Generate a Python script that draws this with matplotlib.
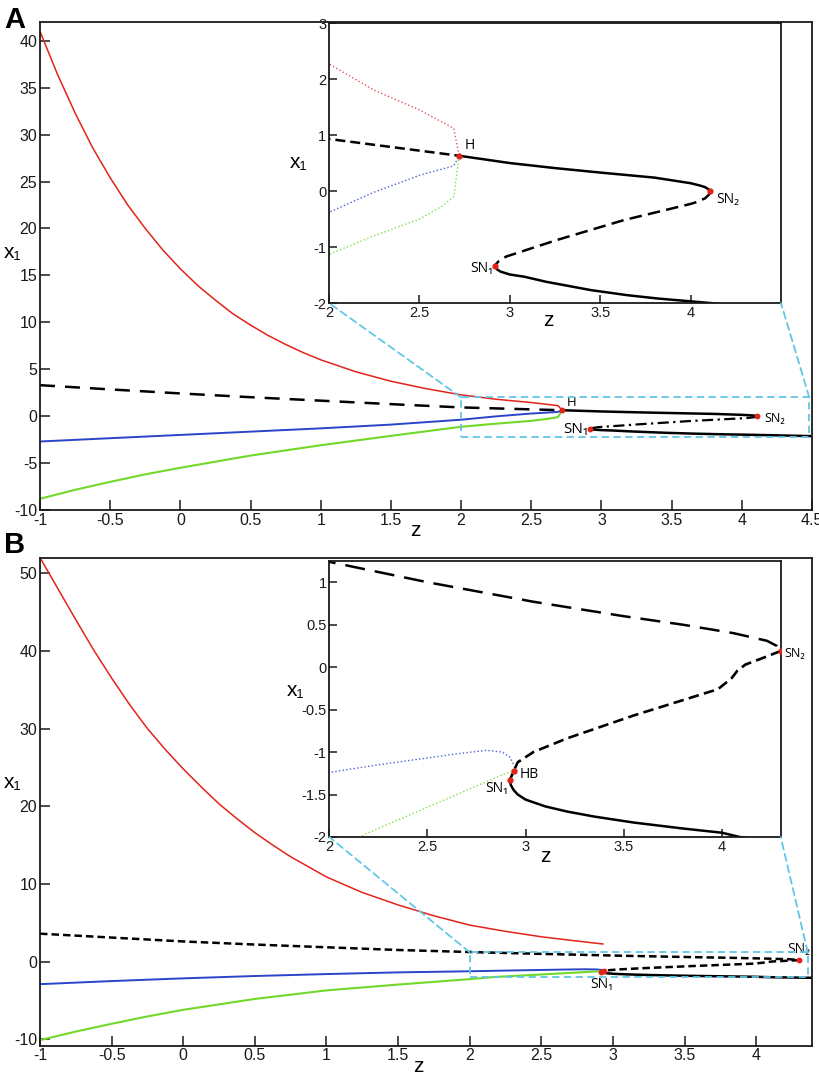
import matplotlib
matplotlib.use("Agg")
import matplotlib.pyplot as plt
from matplotlib.patches import Rectangle, ConnectionPatch
from matplotlib.ticker import FuncFormatter

plt.rcParams['font.family'] = ['Liberation Sans', 'DejaVu Sans']

# ---------------- Panel A data ----------------
A_red_z = [-1, -0.875, -0.75, -0.625, -0.5, -0.375, -0.25, -0.125, 0, 0.125, 0.25, 0.375, 0.5, 0.625, 0.75,
           0.875, 1, 1.25, 1.5, 1.75, 2, 2.25, 2.5, 2.69, 2.72]
A_red_x = [41.0, 36.4, 32.3, 28.6, 25.4, 22.5, 20.0, 17.7, 15.7, 13.9, 12.35, 10.9, 9.7, 8.6, 7.64,
           6.77, 6.0, 4.73, 3.72, 2.93, 2.27, 1.8, 1.45, 1.12, 0.63]
A_blue_z = [-1, -0.5, 0, 0.5, 1, 1.5, 2, 2.25, 2.5, 2.69, 2.72]
A_blue_x = [-2.7, -2.35, -2.0, -1.65, -1.3, -0.9, -0.38, -0.02, 0.28, 0.45, 0.63]
A_green_z = [-1, -0.75, -0.5, -0.25, 0, 0.5, 1, 1.5, 2, 2.25, 2.5, 2.62, 2.69, 2.72]
A_green_x = [-8.8, -7.85, -7.0, -6.2, -5.5, -4.2, -3.1, -2.1, -1.13, -0.8, -0.5, -0.28, -0.1, 0.63]
A_unst_up_z = [-1, -0.5, 0, 0.5, 1, 1.5, 2, 2.36, 2.72]
A_unst_up_x = [3.3, 2.85, 2.42, 2.02, 1.65, 1.28, 0.93, 0.78, 0.63]
A_stab_up_z = [2.72, 2.85, 3.0, 3.25, 3.5, 3.8, 3.9, 4.0, 4.05, 4.08, 4.1, 4.11]
A_stab_up_x = [0.63, 0.57, 0.5, 0.41, 0.33, 0.24, 0.19, 0.14, 0.1, 0.07, 0.03, 0.0]
A_mid_z = [4.11, 4.1, 4.08, 4.04, 4.0, 3.63, 3.26, 2.98, 2.94, 2.925, 2.917]
A_mid_x = [0.0, -0.07, -0.13, -0.19, -0.23, -0.52, -0.875, -1.17, -1.25, -1.3, -1.34]
A_low_z = [2.917, 2.93, 2.95, 3.0, 3.08, 3.2, 3.45, 3.65, 3.82, 4.11, 4.5]
A_low_x = [-1.34, -1.40, -1.44, -1.49, -1.53, -1.62, -1.77, -1.86, -1.92, -2.0, -2.13]
A_pts_z = [2.72, 2.917, 4.11]
A_pts_x = [0.63, -1.34, 0.0]
A_box_z = [2.0, 4.48]
A_box_x = [-2.2, 2.0]

# ---------------- Panel B data ----------------
B_red_z = [-1, -0.875, -0.75, -0.625, -0.5, -0.375, -0.25, -0.125, 0, 0.125, 0.25, 0.375, 0.5, 0.625, 0.75,
           0.875, 1, 1.25, 1.5, 1.75, 2, 2.25, 2.5, 2.75, 2.93]
B_red_x = [52, 48, 44, 40.1, 36.5, 33.1, 30, 27.3, 24.8, 22.5, 20.3, 18.4, 16.6, 15.0, 13.5,
           12.2, 10.9, 8.9, 7.3, 5.9, 4.7, 3.9, 3.2, 2.65, 2.27]
B_blue_z = [-1, -0.5, 0, 0.5, 1, 1.5, 2, 2.25, 2.5, 2.65, 2.8, 2.88, 2.92, 2.94]
B_blue_x = [-2.9, -2.5, -2.15, -1.85, -1.6, -1.38, -1.24, -1.15, -1.07, -1.02, -0.98, -1.0, -1.06, -1.15]
B_green_z = [-1, -0.75, -0.5, -0.25, 0, 0.5, 1, 1.5, 2, 2.18, 2.35, 2.53, 2.7, 2.9, 2.94]
B_green_x = [-10.1, -9.0, -8.0, -7.05, -6.2, -4.8, -3.7, -2.95, -2.25, -1.97, -1.8, -1.62, -1.45, -1.25, -1.22]
B_up_z = [-1, -0.5, 0, 0.5, 1, 1.5, 2, 2.5, 3.04, 3.5, 3.8, 4.06, 4.23, 4.28, 4.3]
B_up_x = [3.6, 3.1, 2.6, 2.2, 1.85, 1.5, 1.24, 1.0, 0.77, 0.6, 0.5, 0.40, 0.31, 0.25, 0.19]
B_mid_z = [4.3, 4.2, 4.12, 4.08, 4.05, 3.98, 3.55, 3.21, 3.04, 2.96, 2.94, 2.92]
B_mid_x = [0.19, 0.1, 0.03, -0.04, -0.13, -0.26, -0.57, -0.84, -1.0, -1.12, -1.22, -1.33]
B_low_z = [2.92, 2.925, 2.94, 2.96, 3.0, 3.05, 3.1, 3.21, 3.35, 3.55, 3.8, 4.0, 4.09, 4.39]
B_low_x = [-1.33, -1.39, -1.45, -1.5, -1.56, -1.6, -1.64, -1.70, -1.76, -1.83, -1.9, -1.95, -2.0, -2.08]
B_pts_z = [2.92, 2.94, 4.3]
B_pts_x = [-1.33, -1.22, 0.19]
B_box_z = [2.0, 4.36]
B_box_x = [-1.99, 1.2]

# ticks
A_xticks = [-1, -0.5, 0, 0.5, 1, 1.5, 2, 2.5, 3, 3.5, 4, 4.5]
A_yticks = [-10, -5, 0, 5, 10, 15, 20, 25, 30, 35, 40]
A_in_xticks = [2, 2.5, 3, 3.5, 4]
A_in_yticks = [-2, -1, 0, 1, 2, 3]
B_xticks = [-1, -0.5, 0, 0.5, 1, 1.5, 2, 2.5, 3, 3.5, 4]
B_yticks = [-10, 0, 10, 20, 30, 40, 50]
B_in_xticks = [2, 2.5, 3, 3.5, 4]
B_in_yticks = [-2, -1.5, -1, -0.5, 0, 0.5, 1]

RED = '#e2231a'
BLUE = '#2a45c8'
GREEN = '#72d82a'
CYAN = '#62c6e6'
W, H = 820, 1078
ANN = ['Open Sans', 'DejaVu Sans']

fig = plt.figure(figsize=(8.2, 10.78), dpi=100)

def px(x, y):
    return x / W, 1 - y / H

def style(ax, xt, yt, fs, tl):
    for s in ax.spines.values():
        s.set_linewidth(1.3)
        s.set_color('#1a1a1a')
    ax.set_xticks(xt)
    ax.set_yticks(yt)
    fmt = FuncFormatter(lambda v, p: '{:g}'.format(v))
    ax.xaxis.set_major_formatter(fmt)
    ax.yaxis.set_major_formatter(fmt)
    ax.tick_params(direction='in', length=tl, width=1.1, labelsize=fs,
                   top=False, right=False, pad=2, colors='#1a1a1a')

axA = fig.add_axes([0.0488, 0.5269, 0.9415, 0.4527])
insA = fig.add_axes([0.4012, 0.7189, 0.5512, 0.2597])
axB = fig.add_axes([0.0488, 0.0301, 0.9415, 0.4526])
insB = fig.add_axes([0.4016, 0.2236, 0.5505, 0.2560])

# ---------- Main A ----------
axA.plot(A_red_z, A_red_x, color=RED, lw=1.1)
axA.plot(A_blue_z, A_blue_x, color=BLUE, lw=1.4)
axA.plot(A_green_z, A_green_x, color=GREEN, lw=1.5)
axA.plot(A_unst_up_z, A_unst_up_x, color='k', lw=1.8, dashes=(6, 4))
axA.plot(A_stab_up_z, A_stab_up_x, color='k', lw=1.8)
axA.plot(A_mid_z, A_mid_x, color='k', lw=1.6, dashes=(5, 2, 1, 2))
axA.plot(A_low_z, A_low_x, color='k', lw=1.8)
axA.plot(A_pts_z, A_pts_x, 'o', color=RED, ms=3.2, zorder=5)
axA.add_patch(Rectangle((A_box_z[0], A_box_x[0]), A_box_z[1] - A_box_z[0], A_box_x[1] - A_box_x[0],
                        fill=False, ec=CYAN, lw=1.3, ls=(0, (4, 2.5)), zorder=4))
axA.set_xlim(-1, 4.5)
axA.set_ylim(-10, 42)
style(axA, A_xticks, A_yticks, 11.5, 7)
axA.text(A_pts_z[0] + 0.03, A_pts_x[0] + 0.1, 'H', fontsize=9.5, family=ANN, va='bottom', ha='left')
axA.text(A_pts_z[2] + 0.05, A_pts_x[2] - 0.2, 'SN₂', fontsize=9, family=ANN, va='center', ha='left')
axA.text(A_pts_z[1] - 0.01, A_pts_x[1] - 0.05, 'SN₁', fontsize=11, family=ANN, va='center', ha='right')

# ---------- Inset A ----------
insA.plot(A_red_z, A_red_x, color='#e05555', lw=1.0, ls=':')
insA.plot(A_blue_z, A_blue_x, color='#4a62d0', lw=1.0, ls=':')
insA.plot(A_green_z, A_green_x, color='#7ee04a', lw=1.0, ls=':')
insA.plot(A_unst_up_z, A_unst_up_x, color='k', lw=1.8, dashes=(4, 2))
insA.plot(A_stab_up_z, A_stab_up_x, color='k', lw=1.8)
insA.plot(A_mid_z, A_mid_x, color='k', lw=1.8, dashes=(5, 2.5))
insA.plot(A_low_z, A_low_x, color='k', lw=1.8)
insA.plot(A_pts_z, A_pts_x, 'o', color=RED, ms=3.5, zorder=5)
insA.set_xlim(2, 4.5)
insA.set_ylim(-2, 3)
style(insA, A_in_xticks, A_in_yticks, 10.5, 6)
insA.text(A_pts_z[0] + 0.03, A_pts_x[0] + 0.05, 'H', fontsize=10, family=ANN, va='bottom', ha='left')
insA.text(A_pts_z[2] + 0.03, A_pts_x[2] - 0.15, 'SN₂', fontsize=10, family=ANN, va='center', ha='left')
insA.text(A_pts_z[1] - 0.01, A_pts_x[1] - 0.05, 'SN₁', fontsize=10, family=ANN, va='center', ha='right')

for xyB in [(0, 0), (1, 0)]:
    xyA = (A_box_z[int(xyB[0])], A_box_x[1])
    con = ConnectionPatch(xyA=xyA, coordsA=axA.transData, xyB=xyB, coordsB=insA.transAxes,
                          color=CYAN, lw=1.3, ls=(0, (4, 2.5)), zorder=3)
    fig.add_artist(con)

# ---------- Main B ----------
axB.plot(B_red_z, B_red_x, color=RED, lw=1.1)
axB.plot(B_blue_z, B_blue_x, color=BLUE, lw=1.4)
axB.plot(B_green_z, B_green_x, color=GREEN, lw=1.5)
axB.plot(B_up_z, B_up_x, color='k', lw=1.8, dashes=(3, 1.6))
axB.plot(B_mid_z, B_mid_x, color='k', lw=1.8, dashes=(3, 1.6))
axB.plot(B_low_z, B_low_x, color='k', lw=1.8)
axB.plot(B_pts_z, B_pts_x, 'o', color=RED, ms=3.2, zorder=5)
axB.add_patch(Rectangle((B_box_z[0], B_box_x[0]), B_box_z[1] - B_box_z[0], B_box_x[1] - B_box_x[0],
                        fill=False, ec=CYAN, lw=1.3, ls=(0, (4, 2.5)), zorder=4))
axB.set_xlim(-1, 4.39)
axB.set_ylim(-10.8, 52)
style(axB, B_xticks, B_yticks, 11.5, 7)
axB.text(B_pts_z[2], B_pts_x[2] + 0.4, 'SN₂', fontsize=10, family=ANN, va='bottom', ha='center')
axB.text(B_pts_z[0], B_pts_x[0] - 0.7, 'SN₁', fontsize=10, family=ANN, va='top', ha='center')

# ---------- Inset B ----------
insB.plot(B_blue_z, B_blue_x, color='#4a62d0', lw=1.0, ls=':')
insB.plot(B_green_z, B_green_x, color='#7ee04a', lw=1.0, ls=':')
insB.plot(B_up_z, B_up_x, color='k', lw=1.8, dashes=(8, 4))
insB.plot(B_mid_z, B_mid_x, color='k', lw=1.9, dashes=(4, 2))
insB.plot(B_low_z, B_low_x, color='k', lw=1.8)
insB.plot(B_pts_z, B_pts_x, 'o', color=RED, ms=3.5, zorder=5)
insB.set_xlim(2, 4.3)
insB.set_ylim(-2, 1.25)
style(insB, B_in_xticks, B_in_yticks, 10.5, 6)
insB.text(B_pts_z[1] + 0.03, B_pts_x[1] - 0.04, 'HB', fontsize=10, family=ANN, va='center', ha='left')
insB.text(B_pts_z[0] - 0.01, B_pts_x[0] - 0.1, 'SN₁', fontsize=10, family=ANN, va='center', ha='right')
insB.text(B_pts_z[2] + 0.02, B_pts_x[2] - 0.03, 'SN₂', fontsize=9, family=ANN, va='center', ha='left', clip_on=False)

for xyB in [(0, 0), (1, 0)]:
    xyA = (B_box_z[int(xyB[0])], B_box_x[1])
    con = ConnectionPatch(xyA=xyA, coordsA=axB.transData, xyB=xyB, coordsB=insB.transAxes,
                          color=CYAN, lw=1.3, ls=(0, (4, 2.5)), zorder=3)
    fig.add_artist(con)

# ---------- labels ----------
fs_lab = 15
fig.text(*px(415, 530), 'z', fontsize=fs_lab, ha='center', va='center')
fig.text(*px(13, 253), 'x₁', fontsize=fs_lab, ha='center', va='center')
fig.text(*px(548, 321), 'z', fontsize=fs_lab, ha='center', va='center')
fig.text(*px(299, 163), 'x₁', fontsize=fs_lab, ha='center', va='center')
fig.text(*px(418, 1066), 'z', fontsize=fs_lab, ha='center', va='center')
fig.text(*px(13, 783), 'x₁', fontsize=fs_lab, ha='center', va='center')
fig.text(*px(545, 857), 'z', fontsize=fs_lab, ha='center', va='center')
fig.text(*px(296, 690), 'x₁', fontsize=fs_lab, ha='center', va='center')
fig.text(*px(15, 20), 'A', fontsize=21, fontweight='bold', ha='center', va='center')
fig.text(*px(15, 545), 'B', fontsize=21, fontweight='bold', ha='center', va='center')

fig.savefig('out.png', dpi=100)
